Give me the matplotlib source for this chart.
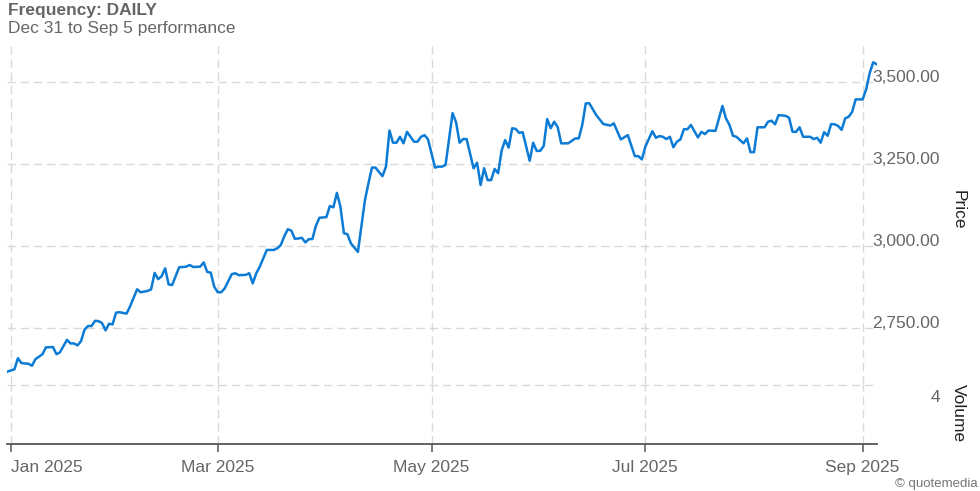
import matplotlib
matplotlib.use('Agg')
import matplotlib.pyplot as plt
import matplotlib.dates as mdates
from matplotlib.transforms import ScaledTranslation
import pandas as pd

plt.rcParams['font.family'] = ['Liberation Sans', 'DejaVu Sans']

# daily closes (Dec 31 -> Sep 5)
dates = [
  '2024-12-31', '2025-01-02', '2025-01-03', '2025-01-04', '2025-01-05', '2025-01-06',
  '2025-01-07', '2025-01-08', '2025-01-10', '2025-01-11', '2025-01-13', '2025-01-14',
  '2025-01-15', '2025-01-17', '2025-01-18', '2025-01-19', '2025-01-20', '2025-01-21',
  '2025-01-22', '2025-01-23', '2025-01-24', '2025-01-25', '2025-01-26', '2025-01-27',
  '2025-01-28', '2025-01-29', '2025-01-30', '2025-01-31', '2025-02-01', '2025-02-03',
  '2025-02-04', '2025-02-06', '2025-02-07', '2025-02-08', '2025-02-09', '2025-02-10',
  '2025-02-11', '2025-02-12', '2025-02-13', '2025-02-14', '2025-02-15', '2025-02-16',
  '2025-02-18', '2025-02-20', '2025-02-21', '2025-02-22', '2025-02-24', '2025-02-25',
  '2025-02-26', '2025-02-27', '2025-02-28', '2025-03-01', '2025-03-02', '2025-03-03',
  '2025-03-05', '2025-03-06', '2025-03-07', '2025-03-09', '2025-03-10', '2025-03-11',
  '2025-03-12', '2025-03-13', '2025-03-15', '2025-03-17', '2025-03-18', '2025-03-19',
  '2025-03-20', '2025-03-21', '2025-03-22', '2025-03-23', '2025-03-24', '2025-03-25',
  '2025-03-26', '2025-03-27', '2025-03-28', '2025-03-29', '2025-03-30', '2025-04-01',
  '2025-04-02', '2025-04-03', '2025-04-04', '2025-04-05', '2025-04-06', '2025-04-07',
  '2025-04-08', '2025-04-10', '2025-04-12', '2025-04-13', '2025-04-14', '2025-04-15',
  '2025-04-17', '2025-04-18', '2025-04-19', '2025-04-20', '2025-04-21', '2025-04-22',
  '2025-04-23', '2025-04-24', '2025-04-26', '2025-04-27', '2025-04-28', '2025-04-29',
  '2025-04-30', '2025-05-02', '2025-05-03', '2025-05-04', '2025-05-05', '2025-05-07',
  '2025-05-08', '2025-05-09', '2025-05-10', '2025-05-11', '2025-05-13', '2025-05-14',
  '2025-05-15', '2025-05-16', '2025-05-17', '2025-05-18', '2025-05-19', '2025-05-20',
  '2025-05-21', '2025-05-22', '2025-05-23', '2025-05-24', '2025-05-25', '2025-05-26',
  '2025-05-27', '2025-05-29', '2025-05-30', '2025-05-31', '2025-06-01', '2025-06-02',
  '2025-06-03', '2025-06-04', '2025-06-05', '2025-06-06', '2025-06-07', '2025-06-09',
  '2025-06-11', '2025-06-12', '2025-06-13', '2025-06-14', '2025-06-15', '2025-06-17',
  '2025-06-19', '2025-06-21', '2025-06-22', '2025-06-24', '2025-06-26', '2025-06-28',
  '2025-06-29', '2025-06-30', '2025-07-01', '2025-07-03', '2025-07-04', '2025-07-05',
  '2025-07-06', '2025-07-07', '2025-07-08', '2025-07-09', '2025-07-10', '2025-07-11',
  '2025-07-12', '2025-07-13', '2025-07-14', '2025-07-16', '2025-07-17', '2025-07-18',
  '2025-07-19', '2025-07-21', '2025-07-23', '2025-07-24', '2025-07-25', '2025-07-26',
  '2025-07-27', '2025-07-29', '2025-07-30', '2025-07-31', '2025-08-01', '2025-08-02',
  '2025-08-04', '2025-08-05', '2025-08-06', '2025-08-07', '2025-08-08', '2025-08-10',
  '2025-08-11', '2025-08-12', '2025-08-13', '2025-08-14', '2025-08-15', '2025-08-17',
  '2025-08-18', '2025-08-19', '2025-08-20', '2025-08-21', '2025-08-22', '2025-08-23',
  '2025-08-24', '2025-08-25', '2025-08-26', '2025-08-27', '2025-08-28', '2025-08-29',
  '2025-08-30', '2025-09-01', '2025-09-02', '2025-09-03', '2025-09-04', '2025-09-05',
]
prices = [
  2617, 2624, 2658, 2643, 2642, 2641,
  2635, 2655, 2670, 2691, 2692, 2670,
  2676, 2714, 2703, 2703, 2697, 2710,
  2745, 2756, 2756, 2772, 2771, 2765,
  2743, 2763, 2761, 2797, 2798, 2794,
  2816, 2868, 2859, 2861, 2863, 2868,
  2918, 2899, 2908, 2932, 2883, 2881,
  2935, 2937, 2942, 2936, 2937, 2950,
  2921, 2919, 2876, 2859, 2859, 2871,
  2914, 2917, 2911, 2912, 2917, 2886,
  2917, 2937, 2988, 2988, 2993, 3003,
  3030, 3051, 3047, 3022, 3023, 3025,
  3011, 3021, 3021, 3061, 3086, 3088,
  3122, 3118, 3162, 3120, 3039, 3036,
  3008, 2982, 3140, 3191, 3239, 3239,
  3213, 3242, 3352, 3315, 3315, 3333,
  3313, 3348, 3318, 3318, 3333, 3338,
  3325, 3239, 3242, 3242, 3247, 3405,
  3377, 3315, 3326, 3326, 3237, 3254,
  3186, 3237, 3201, 3201, 3235, 3222,
  3291, 3323, 3300, 3359, 3357, 3345,
  3347, 3260, 3315, 3290, 3290, 3305,
  3387, 3359, 3379, 3362, 3313, 3313,
  3328, 3328, 3369, 3435, 3435, 3399,
  3372, 3367, 3374, 3325, 3338, 3274,
  3274, 3264, 3303, 3350, 3330, 3335,
  3333, 3326, 3333, 3301, 3318, 3325,
  3356, 3356, 3369, 3331, 3348, 3341,
  3352, 3351, 3427, 3389, 3369, 3336,
  3333, 3313, 3328, 3286, 3286, 3362,
  3362, 3379, 3382, 3371, 3399, 3397,
  3391, 3348, 3348, 3362, 3333, 3333,
  3326, 3330, 3315, 3347, 3336, 3372,
  3371, 3366, 3354, 3389, 3394, 3409,
  3447, 3447, 3478, 3527, 3560, 3554,
]

price_ticks = [2750, 3000, 3250, 3500]
volume_ticks = [4]
month_ticks = ['2025-01-01', '2025-03-01', '2025-05-01', '2025-07-01', '2025-09-01']

W, H = 980, 491
GRID = dict(color='#d9d9d9', linestyle=(0, (6, 3.5)), linewidth=1.0)
LINE_C = '#0b7bd6'
TXT_C = '#666666'
FS = 12.5

def box(x0, y0, x1, y1):
  return [x0 / W, 1 - y1 / H, (x1 - x0) / W, (y1 - y0) / H]

fig = plt.figure(figsize=(W / 100, H / 100), dpi=100)
ax = fig.add_axes(box(7.4, 45, 876.7, 384))
axv = fig.add_axes(box(7.4, 384, 876.7, 444), sharex=ax)

x = pd.to_datetime(dates)
ax.plot(x, prices, color=LINE_C, linewidth=1.8, solid_joinstyle='round')

ax.set_xlim(pd.Timestamp('2024-12-31'), pd.Timestamp('2025-09-05'))
ax.set_ylim(2579.3, 3612.8)

# price panel
for s in ax.spines.values():
  s.set_visible(False)
ax.yaxis.tick_right()
ax.set_yticks(price_ticks)
ax.set_yticklabels([f'{v:,.2f}' for v in price_ticks])
ax.tick_params(axis='y', length=0, pad=45.6, labelsize=FS, labelcolor=TXT_C)
plt.setp(ax.get_yticklabels(), ha='right', va='baseline')
ax.tick_params(axis='x', length=0, labelbottom=False)
ax.grid(True, **GRID)

# volume panel (no bars in the reference)
axv.set_ylim(0, 4.05)
for k in ['top', 'left', 'right']:
  axv.spines[k].set_visible(False)
axv.spines['bottom'].set_color('#555555')
axv.spines['bottom'].set_linewidth(1.3)
axv.yaxis.tick_right()
axv.set_yticks(volume_ticks)
axv.set_yticklabels([str(v) for v in volume_ticks])
axv.tick_params(axis='y', length=0, pad=45.6, labelsize=FS, labelcolor=TXT_C)
shift = ScaledTranslation(0, -4 / 72, fig.dpi_scale_trans)
for lab in axv.get_yticklabels():
  lab.set_ha('right')
  lab.set_va('top')
  lab.set_transform(lab.get_transform() + shift)

axv.set_xticks(pd.to_datetime(month_ticks))
axv.xaxis.set_major_formatter(mdates.DateFormatter('%b %Y'))
axv.tick_params(axis='x', length=5.8, width=1.1, color='#555555', pad=5.5,
                labelsize=FS, labelcolor=TXT_C)
axv.get_xticklabels()[0].set_ha('left')
axv.grid(True, **GRID)

fig.text(8 / W, 1 - 10 / H, 'Frequency: DAILY', fontsize=FS, fontweight='bold',
         color=TXT_C, va='center', ha='left')
fig.text(8 / W, 1 - 28 / H, 'Dec 31 to Sep 5 performance', fontsize=FS,
         color=TXT_C, va='center', ha='left')
fig.text(958 / W, 1 - 210 / H, 'Price', fontsize=FS, rotation=-90,
         color='#222222', va='center', ha='center')
fig.text(958 / W, 1 - 413 / H, 'Volume', fontsize=FS, rotation=-90,
         color='#222222', va='center', ha='center')
fig.text(978 / W, 1 - 484 / H, '\u00a9 quotemedia', fontsize=9.5,
         color='#777777', va='center', ha='right')

fig.savefig('out.png', dpi=100)
